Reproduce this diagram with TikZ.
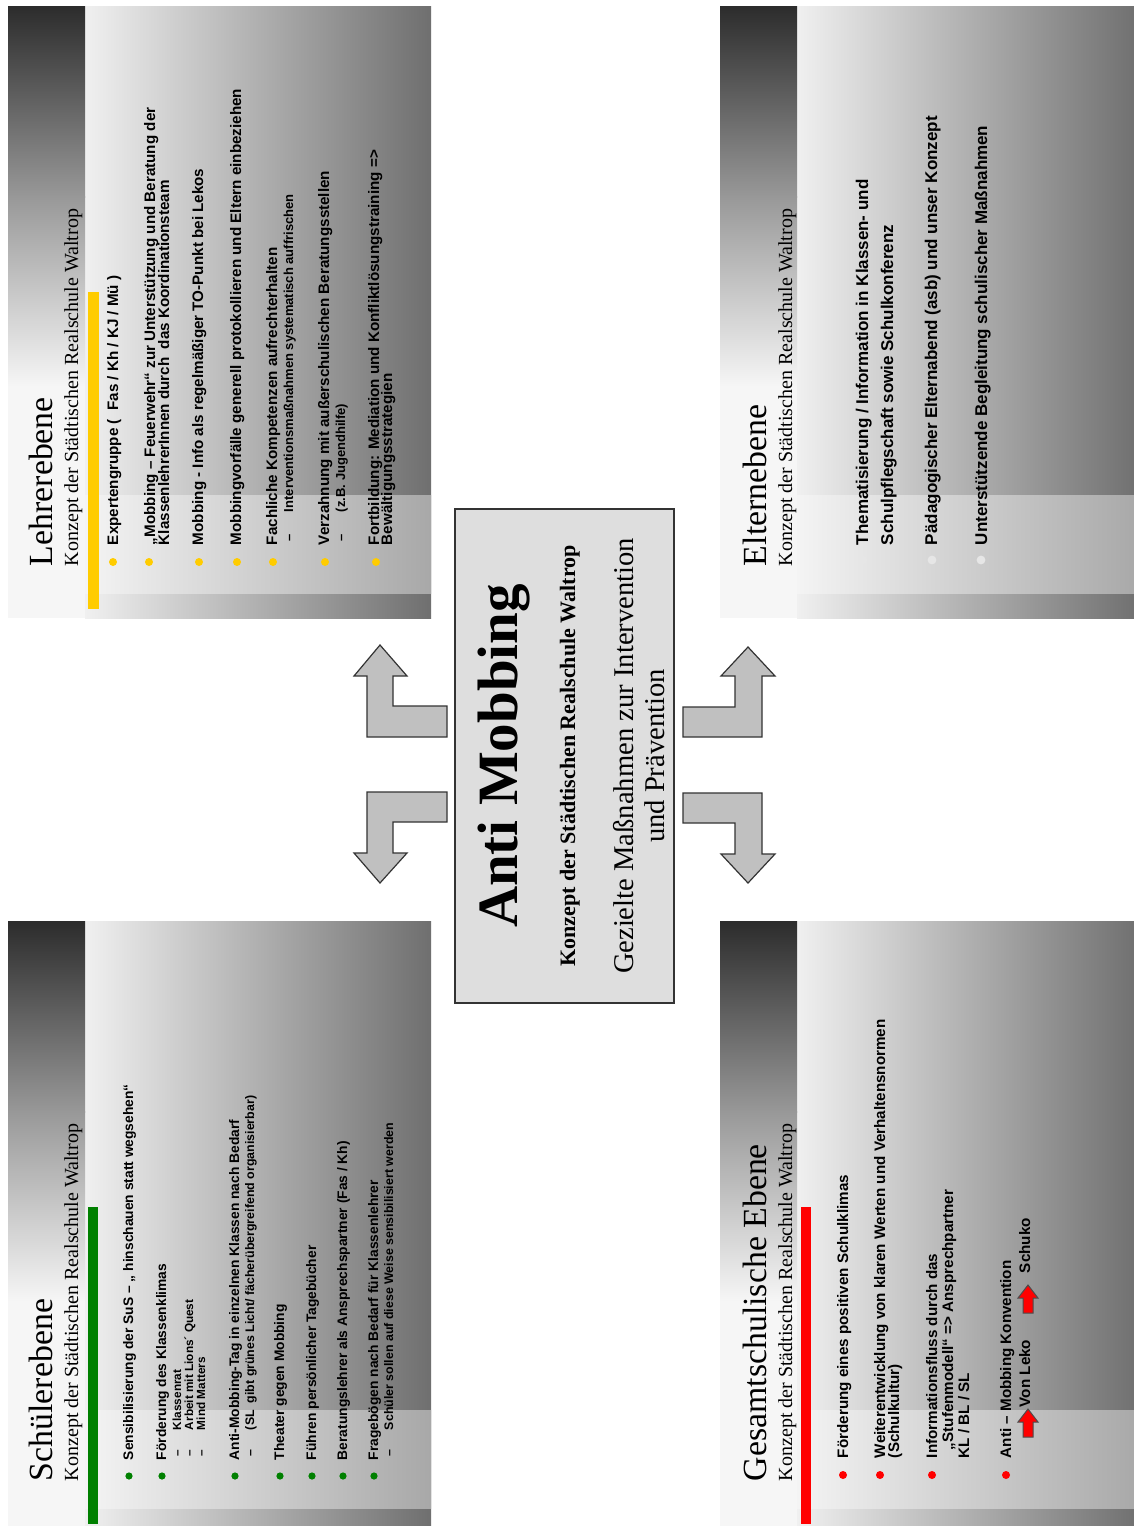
\documentclass[tikz,border=0pt]{standalone}
\usepackage{fontspec}
\setmainfont{Liberation Serif}
\setsansfont{Liberation Sans}
\definecolor{hdrdark}{HTML}{2C2C2C}
\definecolor{hdrmid}{HTML}{989898}
\definecolor{hdrlight}{HTML}{F6F6F6}
\definecolor{bodyL}{HTML}{F0F0F0}
\definecolor{bodyR}{HTML}{6F6F6F}
\definecolor{bandL}{HTML}{F4F4F4}
\definecolor{bandR}{HTML}{A8A8A8}
\definecolor{lyellow}{HTML}{FFCC00}
\definecolor{lgreen}{HTML}{008000}
\definecolor{lred}{HTML}{FF0000}
\definecolor{ldot}{HTML}{E6E6E6}
\definecolor{boxfill}{HTML}{DEDEDE}
\definecolor{arrowfill}{HTML}{C0C0C0}
\definecolor{edge}{HTML}{333333}
% slide background: #1 left, #2 top, #3 right
\newcommand\slidebg[3]{%
  \fill[left color=bodyL, right color=bodyR] ({#1+77},#2) rectangle (#3,{#2+612});
  \fill[left color=bandL, right color=bandR] ({#1+77},{#2+489}) rectangle (#3,{#2+587});
  \fill[top color=hdrdark, bottom color=hdrmid] (#1,#2) rectangle ({#1+77},{#2+191});
  \fill[top color=hdrmid, bottom color=hdrlight] (#1,{#2+190}) rectangle ({#1+77},{#2+381});
  \fill[hdrlight] (#1,{#2+380}) rectangle ({#1+77},{#2+612});
}
\begin{document}
\begin{tikzpicture}[x=0.5pt,y=-0.5pt,
  rtxt/.style={rotate=90, anchor=base west, inner sep=0pt, outer sep=0pt},
  ctxt/.style={rotate=90, anchor=base, inner sep=0pt, outer sep=0pt},
  ttl/.style={rtxt, font=\fontsize{16.9}{18}\selectfont},
  subttl/.style={rtxt, font=\fontsize{10}{12}\selectfont},
  itL/.style={rtxt, font=\sffamily\bfseries\fontsize{7.6}{9}\selectfont},
  subL/.style={rtxt, font=\sffamily\bfseries\fontsize{6.5}{8}\selectfont},
  itS/.style={rtxt, font=\sffamily\bfseries\fontsize{6.9}{8}\selectfont},
  subS/.style={rtxt, font=\sffamily\bfseries\fontsize{6.2}{7}\selectfont},
  subSS/.style={rtxt, font=\sffamily\bfseries\fontsize{5.9}{7}\selectfont},
  itE/.style={rtxt, font=\sffamily\bfseries\fontsize{8.5}{10}\selectfont},
  itG/.style={rtxt, font=\sffamily\bfseries\fontsize{7.6}{9}\selectfont},
  blockarrow/.style={fill=arrowfill, draw=edge, line width=0.6pt, line join=miter},
  redarrow/.style={fill=lred, draw=black!70, line width=0.5pt}]
\useasboundingbox (0,0) rectangle (1134,1526);
\fill[white] (0,0) rectangle (1134,1526);

% ---------- four slides ----------
\begin{scope}
\clip (0,0) rectangle (1134,1526);
\slidebg{8}{6}{431}
\slidebg{8}{921}{431}
\slidebg{720}{6}{1140}
\slidebg{720}{921}{1140}
\end{scope}

% coloured bars
\fill[lyellow] (88,292) rectangle (99,609);
\fill[lgreen] (88,1207) rectangle (98,1524);
\fill[lred] (801,1207) rectangle (811,1524);

% ---------- Lehrerebene ----------
\node[ttl] (lt) at (53,566) {Lehrerebene};
\node[subttl] (ls) at (78,566) {Konzept der Städtischen Realschule Waltrop};
\foreach \p in {113,149,199,237,273,325,376} \fill[lyellow] (\p,562) circle (2pt);
\node[itL] (l1) at (118,545) {Expertengruppe (\ \ Fas / Kh / KJ / Mü )};
\node[itL] (l2a) at (155,545) {„Mobbing – Feuerwehr“ zur Unterstützung und Beratung der};
\node[itL] (l2b) at (169,545) {KlassenlehrerInnen durch\ \ das Koordinationsteam};
\node[itL] (l3) at (203,545) {Mobbing - Info als regelmäßiger TO-Punkt bei Lekos};
\node[itL] (l4) at (241,545) {Mobbingvorfälle generell protokollieren und Eltern einbeziehen};
\node[itL] (l5) at (277,545) {Fachliche Kompetenzen aufrechterhalten};
\node[subL] (l5d) at (293,541) {–};
\node[subL] (l5s) at (293,512) {Interventionsmaßnahmen systematisch auffrischen};
\node[itL] (l6) at (329,545) {Verzahnung mit außerschulischen Beratungsstellen};
\node[subL] (l6d) at (345,541) {–};
\node[subL] (l6s) at (345,512) {(z.B. Jugendhilfe)};
\node[itL] (l7a) at (379,545) {Fortbildung: Mediation und Konfliktlösungstraining =>};
\node[itL] (l7b) at (392,545) {Bewältigungsstrategien};

% ---------- Schülerebene ----------
\node[ttl] (st) at (53,1481) {Schülerebene};
\node[subttl] (ss) at (78,1481) {Konzept der Städtischen Realschule Waltrop};
\foreach \p in {129,162,235,280,312,343,374} \fill[lgreen] (\p,1476) circle (1.8pt);
\node[itS] (s1) at (133,1460) {Sensibilisierung der SuS – „ hinschauen statt wegsehen“};
\node[itS] (s2) at (166,1460) {Förderung des Klassenklimas};
\node[subSS] (s2d1) at (181,1456) {–};
\node[subSS] (s2s1) at (181,1430) {Klassenrat};
\node[subSS] (s2d2) at (193,1456) {–};
\node[subSS] (s2s2) at (193,1430) {Arbeit mit Lions´ Quest};
\node[subSS] (s2d3) at (205,1456) {–};
\node[subSS] (s2s3) at (205,1430) {Mind Matters};
\node[itS] (s3) at (239,1460) {Anti-Mobbing-Tag in einzelnen Klassen nach Bedarf};
\node[subS] (s3d) at (254,1456) {–};
\node[subS] (s3s) at (254,1430) {(SL\ \ gibt grünes Licht/ fächerübergreifend organisierbar)};
\node[itS] (s4) at (284,1460) {Theater gegen Mobbing};
\node[itS] (s5) at (316,1460) {Führen persönlicher Tagebücher};
\node[itS] (s6) at (347,1460) {Beratungslehrer als Ansprechspartner (Fas / Kh)};
\node[itS] (s7) at (378,1460) {Fragebögen nach Bedarf für Klassenlehrer};
\node[subS] (s7d) at (393,1456) {–};
\node[subS] (s7s) at (393,1430) {Schüler sollen auf diese Weise sensibilisiert werden};

% ---------- Elternebene ----------
\node[ttl] (et) at (766,566) {Elternebene};
\node[subttl] (es) at (792,566) {Konzept der Städtischen Realschule Waltrop};
\foreach \p in {863,932,981} \fill[ldot] (\p,560) circle (2.2pt);
\node[itE] (e1a) at (868,545) {Thematisierung / Information in Klassen- und};
\node[itE] (e1b) at (893,545) {Schulpflegschaft sowie Schulkonferenz};
\node[itE] (e2) at (937,545) {Pädagogischer Elternabend (asb) und unser Konzept};
\node[itE] (e3) at (987,545) {Unterstützende Begleitung schulischer Maßnahmen};

% ---------- Gesamtschulische Ebene ----------
\node[ttl] (gt) at (766,1481) {Gesamtschulische Ebene};
\node[subttl] (gs) at (792,1481) {Konzept der Städtischen Realschule Waltrop};
\foreach \p in {843,880,932,1006} \fill[lred] (\p,1475) circle (2pt);
\node[itG] (g1) at (848,1458) {Förderung eines positiven Schulklimas};
\node[itG] (g2a) at (885,1458) {Weiterentwicklung von klaren Werten und Verhaltensnormen};
\node[itG] (g2b) at (899,1458) {(Schulkultur)};
\node[itG] (g3a) at (937,1458) {Informationsfluss durch das};
\node[itG] (g3b) at (953,1450) {„Stufenmodell“ => Ansprechpartner};
\node[itG] (g3c) at (969,1458) {KL / BL / SL};
\node[itG] (g4a) at (1011,1458) {Anti – Mobbing Konvention};
\node[itG] (g4b) at (1030,1407) {Von Leko};
\node[itG] (g4c) at (1030,1273) {Schuko};
% small red arrows in the last item
\draw[redarrow] (1023,1437) -- (1033,1437) -- (1033,1422) -- (1038,1422) -- (1028,1409)
  -- (1018,1422) -- (1023,1422) -- cycle;
\draw[redarrow] (1023,1313) -- (1033,1313) -- (1033,1298) -- (1038,1298) -- (1028,1285)
  -- (1018,1298) -- (1023,1298) -- cycle;

% ---------- centre box ----------
\node[draw=edge, fill=boxfill, line width=0.8pt, inner sep=0pt,
  minimum width=109.5pt, minimum height=247pt] (box) at (564.5,756) {};
\node[ctxt, font=\bfseries\fontsize{28.5}{30}\selectfont] (title) at (517,756) {Anti Mobbing};
\node[ctxt, font=\bfseries\fontsize{11}{12}\selectfont] (konz) at (575,756)
  {Konzept der Städtischen Realschule Waltrop};
\node[ctxt, font=\fontsize{14.3}{16}\selectfont] (ziel1) at (633,756)
  {Gezielte Maßnahmen zur Intervention};
\node[ctxt, font=\fontsize{14.3}{16}\selectfont] (ziel2) at (664,756) {und Prävention};

% ---------- L-shaped block arrows ----------
\draw[blockarrow] (380,645) -- (407,676) -- (393,676) -- (393,706) -- (447,706)
  -- (447,737) -- (367,737) -- (367,676) -- (354,676) -- cycle;
\draw[blockarrow] (367,792) -- (447,792) -- (447,822) -- (393,822) -- (393,853)
  -- (407,853) -- (380,883) -- (354,853) -- (367,853) -- cycle;
\draw[blockarrow] (748,647) -- (775,676) -- (762,676) -- (762,737) -- (683,737)
  -- (683,707) -- (735,707) -- (735,676) -- (721,676) -- cycle;
\draw[blockarrow] (683,793) -- (762,793) -- (762,854) -- (775,854) -- (748,883)
  -- (721,854) -- (735,854) -- (735,823) -- (683,823) -- cycle;
\end{tikzpicture}
\end{document}
